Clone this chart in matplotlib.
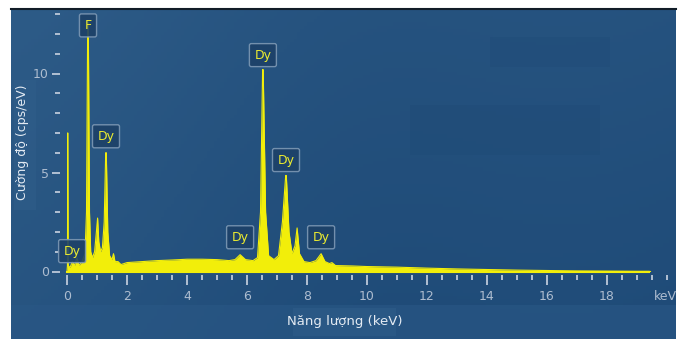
import matplotlib
matplotlib.use("Agg")
import matplotlib.pyplot as plt
import numpy as np
from matplotlib.colors import LinearSegmentedColormap
from matplotlib.patches import Rectangle

# ---- data ----
energy_kev = [0.00, 0.015, 0.025, 0.04, 0.10, 0.18, 0.25, 0.33, 0.40, 0.50, 0.60,
              0.65, 0.69, 0.71, 0.75, 0.79, 0.85, 0.92, 0.98, 1.02, 1.06, 1.12,
              1.18, 1.24, 1.29, 1.31, 1.36, 1.42, 1.50, 1.55, 1.60, 1.70, 1.80,
              2.0, 2.5, 3.0, 3.5, 4.0, 4.5, 5.0, 5.4, 5.6, 5.77, 5.95, 6.2,
              6.35, 6.45, 6.52, 6.54, 6.62, 6.72, 6.9, 7.05, 7.18, 7.29, 7.31,
              7.40, 7.50, 7.60, 7.67, 7.75, 7.9, 8.1, 8.3, 8.47, 8.6, 8.75,
              8.83, 8.95, 9.5, 10.0, 11.0, 12.0, 13.0, 14.0, 15.0, 16.0, 17.0,
              18.0, 19.0, 19.4, 19.45]
intensity = [0.0, 0.3, 7.0, 0.3, 0.2, 0.5, 0.3, 0.7, 0.3, 0.5, 0.9,
             3.0, 12.6, 12.6, 3.0, 1.0, 0.7, 1.0, 2.0, 2.7, 1.5, 1.0,
             1.2, 2.5, 6.0, 6.0, 2.0, 0.8, 0.6, 0.9, 0.5, 0.5, 0.35,
             0.45, 0.5, 0.55, 0.58, 0.62, 0.62, 0.6, 0.55, 0.6, 0.85, 0.6, 0.55,
             0.7, 3.0, 10.2, 10.2, 3.0, 0.8, 0.6, 0.8, 2.5, 4.85, 4.85,
             2.0, 0.9, 1.3, 2.2, 0.9, 0.5, 0.45, 0.55, 0.9, 0.5, 0.4,
             0.45, 0.3, 0.28, 0.25, 0.22, 0.17, 0.13, 0.10, 0.07, 0.05, 0.03,
             0.02, 0.01, 0.01, 0.0]

peak_labels = ["F", "Dy", "Dy", "Dy", "Dy", "Dy", "Dy"]
peak_energy = [0.70, 1.30, 0.17, 6.53, 7.30, 5.77, 8.47]
label_level = [12.1, 6.5, 0.7, 10.6, 5.3, 1.4, 1.4]

x_ticks_major = [0, 2, 4, 6, 8, 10, 12, 14, 16, 18]
y_ticks_major = [0, 5, 10]

W, H = 678, 339
PT = 72 / 100  # points per pixel
fig = plt.figure(figsize=(W / 100, H / 100), dpi=100)
fig.patch.set_facecolor("white")

# ---- background panel ----
bg = fig.add_axes([11 / W, 0, (676 - 11) / W, (H - 9) / H])
bg.set_axis_off()
gx = np.linspace(0, 1, 200)
gy = np.linspace(0, 1, 100)
GX, GY = np.meshgrid(gx, gy)
val = 0.55 * (1 - GX) + 0.45 * GY
val = np.clip(val - 0.25 * np.exp(-((GX - 0.5) ** 2) / 0.08), 0, 1)
cmap = LinearSegmentedColormap.from_list("bgc", ["#1f4b78", "#2d5b87"])
bg.imshow(val, cmap=cmap, aspect="auto", extent=[0, 1, 0, 1], origin="lower")
bg.set_xlim(0, 1)
bg.set_ylim(0, 1)
bg.add_patch(Rectangle((0, 0), 1, 34 / 330, color="#2a5886", alpha=0.6, lw=0))
bg.plot([0, 1], [1, 1], color="#111c28", lw=1.5, clip_on=False)
bg.add_patch(Rectangle(((410 - 11) / 665, (339 - 155) / 330), 190 / 665, 50 / 330,
                       color="#1f4a76", alpha=0.35, lw=0))
bg.add_patch(Rectangle(((490 - 11) / 665, (339 - 67) / 330), 120 / 665, 30 / 330,
                       color="#1f4a76", alpha=0.35, lw=0))
bg.add_patch(Rectangle(((14 - 11) / 665, (339 - 210) / 330), 22 / 665, 130 / 330,
                       color="#2e5c88", alpha=0.8, lw=0))
bg.add_patch(Rectangle(((293 - 11) / 665, (339 - 336) / 330), 103 / 665, 28 / 330,
                       color="#2f5d89", alpha=0.6, lw=0))

# ---- main axes ----
x0px, ppk = 67, 30.0
y0px, ppu = 271.5, 19.8
xmin, xmax = -7.0 / ppk, 20.0
ymin, ymax = -3.0 / ppu, 13.2
left = (x0px + xmin * ppk) / W
width = (xmax - xmin) * ppk / W
bottom = (H - y0px - (-ymin) * ppu) / H
height = (ymax - ymin) * ppu / H
ax = fig.add_axes([left, bottom, width, height])
ax.set_facecolor("none")
ax.set_xlim(xmin, xmax)
ax.set_ylim(ymin, ymax)

yellow = "#f2ee0a"
ax.fill_between(energy_kev, 0, intensity, color=yellow, lw=0, zorder=3)
ax.plot(energy_kev, intensity, color=yellow, lw=0.8, zorder=3)
ax.plot([0, 19.4], [0, 0], color=yellow, lw=1.5, zorder=3)

for s in ax.spines.values():
    s.set_visible(False)

tick_col = "#aebdd0"
ax.set_xticks(x_ticks_major)
ax.set_xticks(np.arange(0, 20.01, 0.5), minor=True)
ax.set_yticks(y_ticks_major)
ax.set_yticks(np.arange(0, 13.01, 1), minor=True)
ax.set_xticklabels([str(v) for v in x_ticks_major])
ax.set_yticklabels([str(v) for v in y_ticks_major])
ax.tick_params(axis="x", which="major", length=10 * PT, width=2 * PT, color=tick_col,
               labelcolor=tick_col, labelsize=9, pad=5 * PT)
ax.tick_params(axis="x", which="minor", length=5 * PT, width=2 * PT, color=tick_col)
ax.tick_params(axis="y", which="major", length=8 * PT, width=2 * PT, color=tick_col,
               labelcolor=tick_col, labelsize=9, pad=3 * PT)
ax.tick_params(axis="y", which="minor", length=5 * PT, width=2 * PT, color=tick_col)

fig.text(665 / W, 1 - 296 / H, "keV", color=tick_col, fontsize=9, ha="center",
         va="center")

fig.text(345 / W, 1 - 322 / H, "Năng lượng (keV)", color="#e4ebf3", fontsize=9.5,
         ha="center", va="center")
fig.text(23 / W, 1 - 142 / H, "Cường độ (cps/eV)", color="#e4ebf3", fontsize=9,
         ha="center", va="center", rotation=90)

for lab, e, lv in zip(peak_labels, peak_energy, label_level):
    ax.text(e, lv, lab, color="#ecec30", fontsize=9, ha="center", va="bottom",
            zorder=5,
            bbox=dict(boxstyle="round,pad=0.4,rounding_size=0.15",
                      facecolor="#1d4168", edgecolor="#7d98b4", lw=1.0, alpha=0.9))

fig.savefig("out.png", dpi=100, facecolor=fig.get_facecolor())
